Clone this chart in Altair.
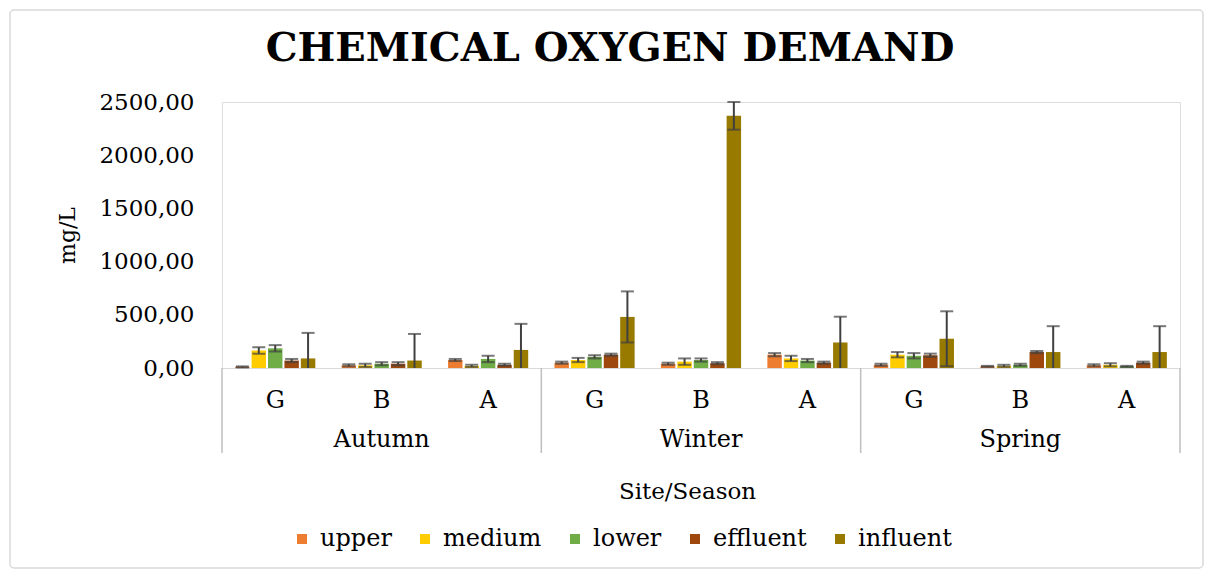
import altair as alt
import pandas as pd

title_text = ["CHEMICAL OXYGEN DEMAND"]
seasons = ["Autumn", "Winter", "Spring"]
sites = ["G", "B", "A"]
series = ["upper", "medium", "lower", "effluent", "influent"]
colors = ["#ED7D31", "#FFCC00", "#70AD47", "#9E480E", "#997A00"]

# values for groups in order: Autumn G,B,A / Winter G,B,A / Spring G,B,A
upper = [10, 25, 75, 50, 40, 125, 30, 15, 25]
medium = [165, 25, 20, 75, 60, 90, 125, 20, 30]
lower = [185, 40, 85, 105, 75, 70, 115, 30, 15]
effluent = [70, 40, 30, 125, 45, 50, 120, 150, 50]
influent = [90, 70, 170, 480, 2370, 240, 275, 150, 150]

upper_err = [5, 10, 10, 10, 10, 15, 10, 5, 10]
medium_err = [30, 15, 10, 20, 30, 25, 25, 10, 15]
lower_err = [30, 15, 30, 15, 15, 15, 25, 10, 5]
effluent_err = [15, 15, 10, 10, 10, 10, 15, 10, 10]
influent_err = [240, 250, 245, 240, 130, 242, 258, 243, 243]

y_ticks = [0, 500, 1000, 1500, 2000, 2500]

groups = [f"{s}|{t}" for s in seasons for t in sites]
vals = dict(upper=upper, medium=medium, lower=lower, effluent=effluent, influent=influent)
errs = dict(upper=upper_err, medium=medium_err, lower=lower_err, effluent=effluent_err, influent=influent_err)

rows = []
for name in series:
    for i, g in enumerate(groups):
        v = vals[name][i]
        e = errs[name][i]
        rows.append(dict(group=g, series=name, value=v, err=e,
                         hi=v + e, lo=max(v - e, 0), haslo=(v - e) > 0))
df = pd.DataFrame(rows)

season_df = pd.DataFrame({"group": [f"{s}|B" for s in seasons], "season": seasons})
sep_df = pd.DataFrame({"group": [f"{s}|G" for s in seasons]})
sep_end_df = pd.DataFrame({"group": [groups[-1]]})
title_df = pd.DataFrame({"t": title_text})

FONT = "DejaVu Serif"
W, H = 958, 266

xscale = alt.Scale(domain=groups, paddingInner=0, paddingOuter=0)
xoff = alt.XOffset("series:N", sort=series,
                   scale=alt.Scale(domain=series, paddingInner=0.12, paddingOuter=0.8))
yscale = alt.Scale(domain=[0, 2500], nice=False)

x_axis = alt.Axis(
    labelExpr="split(datum.value, '|')[1]",
    labelAngle=0, labelFont=FONT, labelFontSize=24, labelColor="#000000",
    labelPadding=20, ticks=False, domainColor="#D9D9D9", domainWidth=1,
    title="Site/Season", titleFont=FONT, titleFontSize=23, titleFontWeight="normal",
    titleColor="#000000", titleY=123, titleX=465, titleBaseline="middle",
)
y_axis = alt.Axis(
    values=y_ticks,
    labelExpr="replace(format(datum.value, '.2f'), '.', ',')",
    labelFont=FONT, labelFontSize=23, labelColor="#000000", labelPadding=28,
    grid=False, domain=False, ticks=False,
    title="mg/L", titleFont=FONT, titleFontSize=22, titleFontWeight="normal",
    titleColor="#000000", titleX=-155, titleBaseline="middle",
)

border = alt.Chart(pd.DataFrame({"a": [0]})).mark_rect(
    fill="transparent", stroke="#D9D9D9", strokeWidth=1.5, cornerRadius=4
).encode(x=alt.value(-212), x2=alt.value(W + 23), y=alt.value(-92), y2=alt.value(H + 200))

title = alt.Chart(title_df).mark_text(
    font=FONT, fontSize=40, fontWeight="bold", color="#000000",
    align="center", baseline="alphabetic",
).encode(x=alt.value(388), y=alt.value(-41), text="t:N")

bars = alt.Chart(df).mark_bar().encode(
    x=alt.X("group:N", scale=xscale, axis=x_axis),
    xOffset=xoff,
    y=alt.Y("value:Q", scale=yscale, axis=y_axis),
    color=alt.Color(
        "series:N",
        scale=alt.Scale(domain=series, range=colors),
        legend=alt.Legend(
            orient="none", legendX=68, legendY=425, direction="horizontal",
            title=None, symbolType="square", symbolSize=100, symbolStrokeWidth=0,
            labelFont=FONT, labelFontSize=24, labelColor="#000000",
            labelOffset=6, columnPadding=21,
        ),
    ),
)

err_color = "#404040"
rules = alt.Chart(df).mark_rule(color=err_color, strokeWidth=2).encode(
    x=alt.X("group:N", scale=xscale), xOffset=xoff,
    y=alt.Y("lo:Q", scale=yscale), y2="hi:Q",
)
caps_top = alt.Chart(df).mark_tick(color=err_color, thickness=2, size=13).encode(
    x=alt.X("group:N", scale=xscale), xOffset=xoff,
    y=alt.Y("hi:Q", scale=yscale),
)
caps_bot = alt.Chart(df).transform_filter("datum.haslo").mark_tick(
    color=err_color, thickness=2, size=13
).encode(
    x=alt.X("group:N", scale=xscale), xOffset=xoff,
    y=alt.Y("lo:Q", scale=yscale),
)

season_text = alt.Chart(season_df).mark_text(
    font=FONT, fontSize=24, color="#000000", baseline="middle"
).encode(
    x=alt.X("group:N", scale=xscale), y=alt.value(H + 72), text="season:N"
)

seps = alt.Chart(sep_df).mark_rule(color="#BFBFBF", strokeWidth=1.5).encode(
    x=alt.X("group:N", scale=xscale, bandPosition=0),
    y=alt.value(H), y2=alt.value(H + 85),
)
sep_end = alt.Chart(sep_end_df).mark_rule(color="#BFBFBF", strokeWidth=1.5).encode(
    x=alt.X("group:N", scale=xscale, bandPosition=1),
    y=alt.value(H), y2=alt.value(H + 85),
)

chart = alt.layer(border, title, bars, rules, caps_top, caps_bot, seps, sep_end, season_text).properties(
    width=W, height=H,
    autosize=alt.AutoSizeParams(type="none"),
    padding={"left": 214, "top": 94, "right": 25, "bottom": 202},
).configure_view(stroke=None).configure(background="#FFFFFF")

chart.save("out.html", embed_options={"renderer": "svg", "actions": False})
